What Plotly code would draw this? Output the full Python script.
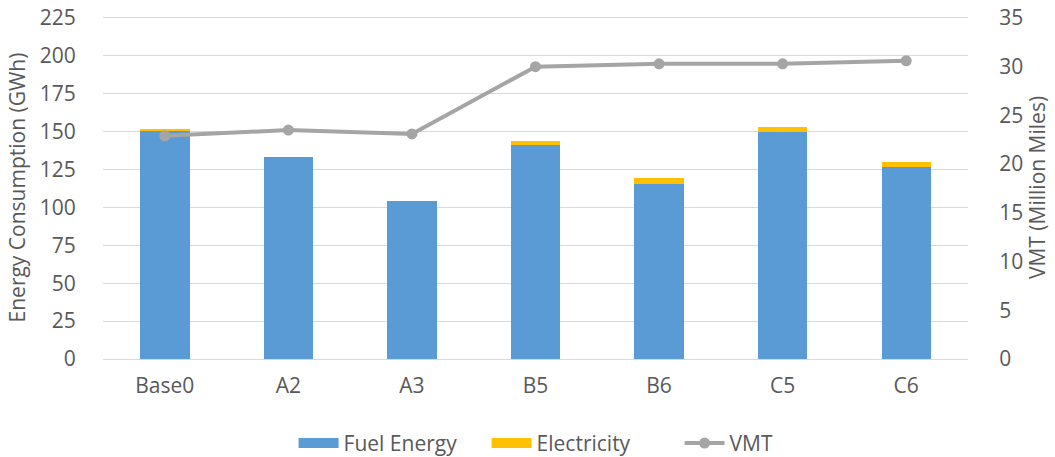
import plotly.graph_objects as go

categories = ["Base0", "A2", "A3", "B5", "B6", "C5", "C6"]
fuel_energy = [151, 133.5, 104.5, 141, 115.5, 150, 126.5]
electricity = [0.3, 0, 0, 3, 4, 2.8, 3.5]
vmt = [22.9, 23.5, 23.1, 30.0, 30.3, 30.3, 30.6]

y_ticks = [0, 25, 50, 75, 100, 125, 150, 175, 200, 225]
y2_ticks = [0, 5, 10, 15, 20, 25, 30, 35]
y_max = 226.3
y2_max = 35 * y_max / 225

font_family = "'Open Sans', sans-serif"
txt = "#595959"
blue, gold, grey = "#5b9bd5", "#ffc000", "#a5a5a5"

fig = go.Figure()
fig.add_trace(go.Bar(x=categories, y=fuel_energy, name="Fuel Energy", showlegend=False,
                     marker=dict(color=blue, line=dict(width=0)), width=0.4))
fig.add_trace(go.Bar(x=categories, y=electricity, name="Electricity", showlegend=False,
                     marker=dict(color=gold, line=dict(width=0)), width=0.4))
fig.add_trace(go.Scatter(x=categories, y=vmt, name="VMT", yaxis="y2",
                         mode="lines+markers", showlegend=False,
                         line=dict(color=grey, width=4),
                         marker=dict(color=grey, size=11)))
# legend entries (swatches styled like the reference)
fig.add_trace(go.Scatter(x=[None], y=[None], mode="lines", name="Fuel Energy",
                         line=dict(color=blue, width=14)))
fig.add_trace(go.Scatter(x=[None], y=[None], mode="lines", name="Electricity",
                         line=dict(color=gold, width=14)))
fig.add_trace(go.Scatter(x=[None], y=[None], mode="lines+markers", name="VMT", yaxis="y2",
                         line=dict(color=grey, width=4), marker=dict(color=grey, size=11)))

fig.update_layout(
    width=1055, height=457,
    barmode="stack",
    plot_bgcolor="white", paper_bgcolor="white",
    margin=dict(l=103, r=87, t=16, b=98, autoexpand=False),
    font=dict(family=font_family, size=21, color=txt),
    xaxis=dict(showgrid=False, showline=True, linecolor="#d9d9d9", linewidth=1,
               tickfont=dict(size=21, color=txt), ticks="", ticklabelstandoff=8),
    yaxis=dict(range=[0, y_max], tickvals=y_ticks, showgrid=True, gridcolor="#d9d9d9",
               gridwidth=1, zeroline=False, ticklabeloverflow="allow",
               title=dict(text="Energy Consumption (GWh)", font=dict(size=21, color=txt), standoff=8),
               tickfont=dict(size=21, color=txt), ticks="outside", ticklen=22,
               tickcolor="white"),
    yaxis2=dict(range=[0, y2_max], tickvals=y2_ticks, overlaying="y", side="right",
                showgrid=False, zeroline=False, ticklabeloverflow="allow",
                title=dict(text="VMT (Million Miles)", font=dict(size=21, color=txt), standoff=4),
                tickfont=dict(size=21, color=txt), ticks="outside", ticklen=26,
                tickcolor="white"),
    legend=dict(orientation="h", x=0.555, xanchor="center", y=-0.246, yanchor="middle",
                font=dict(size=21, color=txt), traceorder="normal", itemwidth=40,
                entrywidth=138, entrywidthmode="pixels"),
    bargap=0.6,
)

fig.write_html("out.html", config={"displayModeBar": False},
               post_script="document.body.style.margin='0';")
